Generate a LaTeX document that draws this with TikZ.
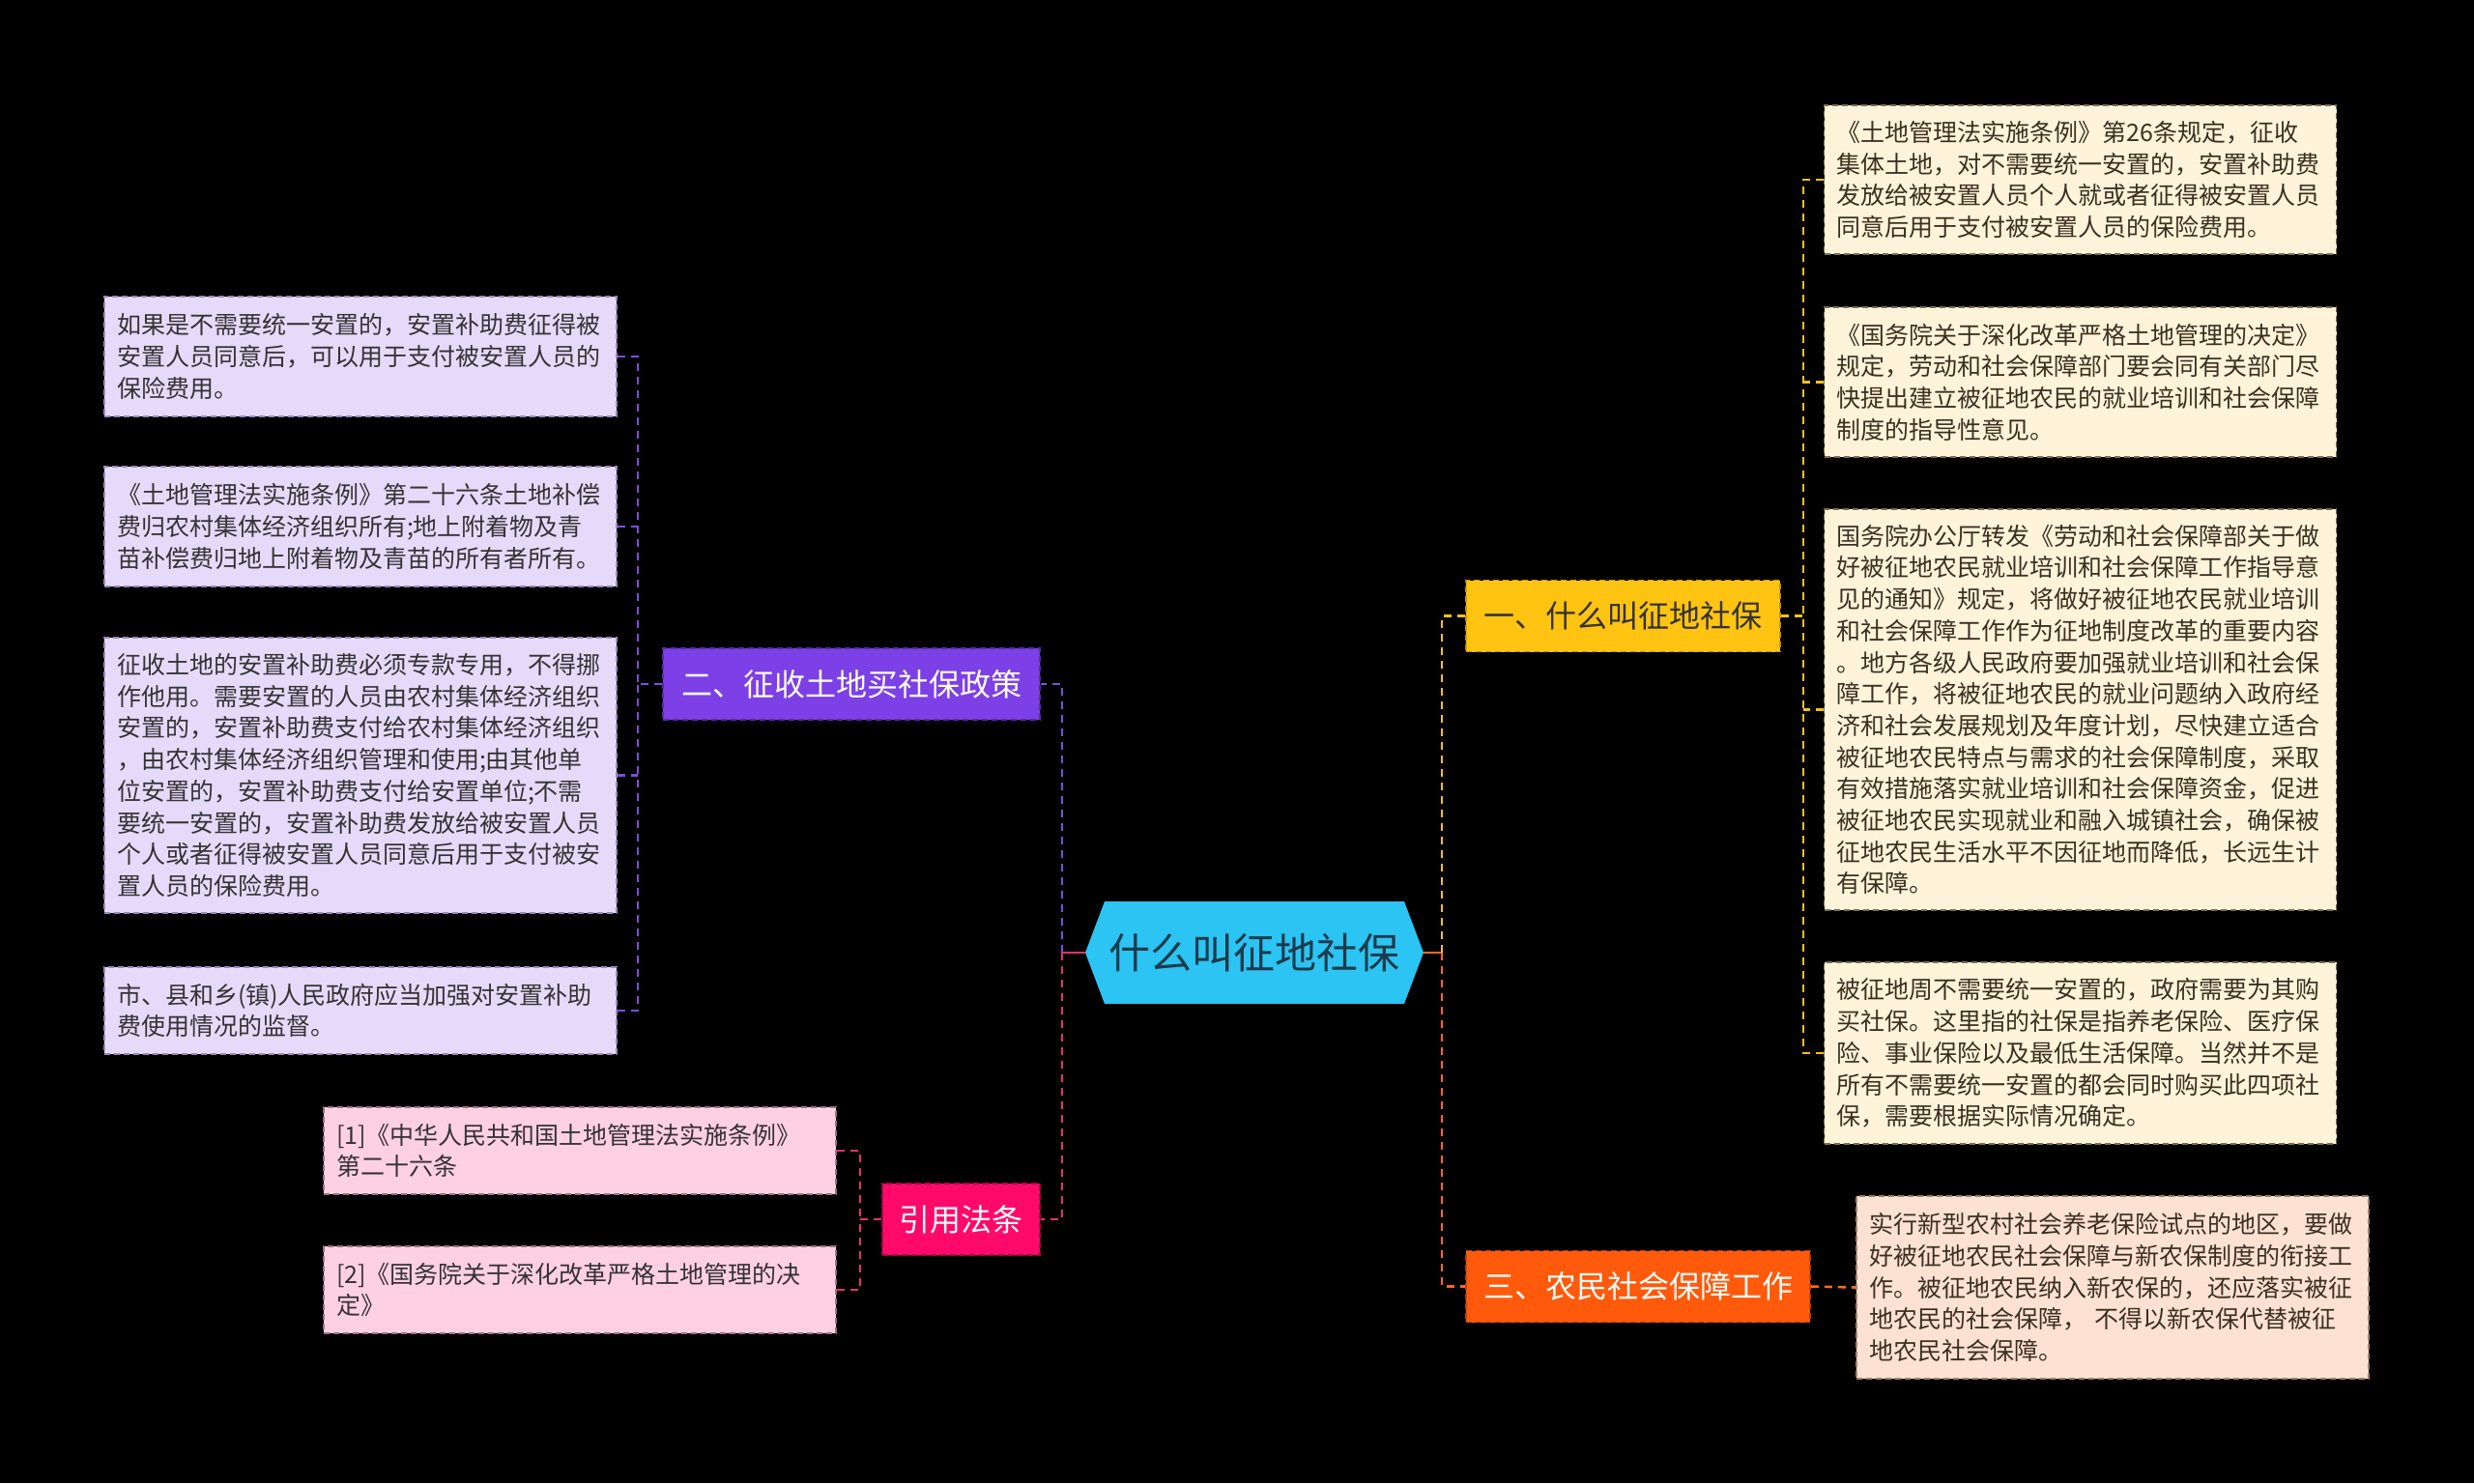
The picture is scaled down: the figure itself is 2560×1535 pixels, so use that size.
\documentclass[tikz,border=0pt]{standalone}
\usepackage{fontspec}
\setmainfont{Noto Sans CJK SC}
\usetikzlibrary{calc}
\definecolor{cfill}{HTML}{2BC4F3}
\definecolor{ctext}{HTML}{1D3A4A}
\definecolor{goldf}{HTML}{FFC312}
\definecolor{goldd}{HTML}{C99400}
\definecolor{goldl}{HTML}{F2C21A}
\definecolor{purf}{HTML}{7C40E6}
\definecolor{purd}{HTML}{5A28B0}
\definecolor{purl}{HTML}{7A4EE0}
\definecolor{orf}{HTML}{FF5A0B}
\definecolor{ord}{HTML}{C04000}
\definecolor{orl}{HTML}{FF6A1A}
\definecolor{pkf}{HTML}{FF0A6A}
\definecolor{pkd}{HTML}{B0004A}
\definecolor{pkl}{HTML}{E8306E}
\definecolor{lavf}{HTML}{E6DAFA}
\definecolor{lavd}{HTML}{9888BE}
\definecolor{creamf}{HTML}{FFF4DA}
\definecolor{creamd}{HTML}{7E6E4E}
\definecolor{rosef}{HTML}{FFD0E2}
\definecolor{rosed}{HTML}{A07084}
\definecolor{peachf}{HTML}{FDE1D3}
\definecolor{peachd}{HTML}{A08070}
\definecolor{darktxt}{HTML}{333333}
\definecolor{browntxt}{HTML}{3B3020}
\newcommand\leaffont{\fontsize{25}{32.7}\selectfont}
\newcommand\branchfont{\fontsize{32}{38}\selectfont}
\newcommand\centerfont{\fontsize{43}{50}\selectfont}
\begin{document}
\begin{tikzpicture}[x=1pt,y=-1pt,
  leafbox/.style={draw, line width=1.6pt, dash pattern=on 6pt off 4pt, inner xsep=13pt, inner ysep=0pt,
     text width=504pt, align=left, font=\leaffont, anchor=center},
  lavleaf/.style={leafbox, fill=lavf, draw=lavd, text=darktxt},
  creamleaf/.style={leafbox, fill=creamf, draw=creamd, text=browntxt},
  roseleaf/.style={leafbox, fill=rosef, draw=rosed, text=darktxt},
  peachleaf/.style={leafbox, fill=peachf, draw=peachd, text=browntxt},
  branchbox/.style={draw, line width=1.6pt, dash pattern=on 6pt off 4pt, inner sep=0pt, align=center,
     font=\branchfont, minimum height=74pt},
  conn/.style={line width=2.6pt, dash pattern=on 8pt off 6pt},
  stub/.style={line width=2.6pt}
]
\useasboundingbox (0,0) rectangle (2560,1535);
\fill[black] (0,0) rectangle (2560,1535);

% center hexagon
\coordinate (cc) at (1298,986);
\fill[cfill] ($(cc)+(-175,0)$) -- ($(cc)+(-155,-53)$) -- ($(cc)+(155,-53)$) -- ($(cc)+(175,0)$)
   -- ($(cc)+(155,53)$) -- ($(cc)+(-155,53)$) -- cycle;
\node[minimum width=350pt, minimum height=106pt, inner sep=0pt, font=\centerfont, text=ctext] (c) at (cc) {什么叫征地社保};

% branches
\node[branchbox, fill=goldf, draw=goldd, text=darktxt, minimum width=325pt] (b1) at (1679.5,637.5) {一、什么叫征地社保};
\node[branchbox, fill=purf, draw=purd, text=white, minimum width=390pt] (b2) at (881,708) {二、征收土地买社保政策};
\node[branchbox, fill=orf, draw=ord, text=white, minimum width=356pt] (b3) at (1695,1331.5) {三、农民社会保障工作};
\node[branchbox, fill=pkf, draw=pkd, text=white, minimum width=163pt] (b4) at (994.5,1262) {引用法条};

% left leaves
\node[lavleaf, minimum height=124pt] (L1) at (373,369) {如果是不需要统一安置的，安置补助费征得被\\安置人员同意后，可以用于支付被安置人员的\\保险费用。};
\node[lavleaf, minimum height=124pt] (L2) at (373,545) {《土地管理法实施条例》第二十六条土地补偿\\费归农村集体经济组织所有;地上附着物及青\\苗补偿费归地上附着物及青苗的所有者所有。};
\node[lavleaf, minimum height=285pt] (L3) at (373,802.5) {征收土地的安置补助费必须专款专用，不得挪\\作他用。需要安置的人员由农村集体经济组织\\安置的，安置补助费支付给农村集体经济组织\\，由农村集体经济组织管理和使用;由其他单\\位安置的，安置补助费支付给安置单位;不需\\要统一安置的，安置补助费发放给被安置人员\\个人或者征得被安置人员同意后用于支付被安\\置人员的保险费用。};
\node[lavleaf, minimum height=90pt] (L4) at (373,1046) {市、县和乡(镇)人民政府应当加强对安置补助\\费使用情况的监督。};

% reference leaves
\node[roseleaf, minimum height=90pt] (R1) at (600,1191) {[1]《中华人民共和国土地管理法实施条例》\\第二十六条};
\node[roseleaf, minimum height=90pt] (R2) at (600,1335) {[2]《国务院关于深化改革严格土地管理的决\\定》};

% right leaves
\node[creamleaf, minimum height=154pt] (T1) at (2152.5,186) {《土地管理法实施条例》第26条规定，征收\\集体土地，对不需要统一安置的，安置补助费\\发放给被安置人员个人就或者征得被安置人员\\同意后用于支付被安置人员的保险费用。};
\node[creamleaf, minimum height=155pt] (T2) at (2152.5,395.5) {《国务院关于深化改革严格土地管理的决定》\\规定，劳动和社会保障部门要会同有关部门尽\\快提出建立被征地农民的就业培训和社会保障\\制度的指导性意见。};
\node[creamleaf, minimum height=415pt] (T3) at (2152.5,734.5) {国务院办公厅转发《劳动和社会保障部关于做\\好被征地农民就业培训和社会保障工作指导意\\见的通知》规定，将做好被征地农民就业培训\\和社会保障工作作为征地制度改革的重要内容\\。地方各级人民政府要加强就业培训和社会保\\障工作，将被征地农民的就业问题纳入政府经\\济和社会发展规划及年度计划，尽快建立适合\\被征地农民特点与需求的社会保障制度，采取\\有效措施落实就业培训和社会保障资金，促进\\被征地农民实现就业和融入城镇社会，确保被\\征地农民生活水平不因征地而降低，长远生计\\有保障。};
\node[creamleaf, minimum height=188pt] (T4) at (2152.5,1090) {被征地周不需要统一安置的，政府需要为其购\\买社保。这里指的社保是指养老保险、医疗保\\险、事业保险以及最低生活保障。当然并不是\\所有不需要统一安置的都会同时购买此四项社\\保，需要根据实际情况确定。};
\node[peachleaf, minimum height=189pt] (T5) at (2186,1332.5) {实行新型农村社会养老保险试点的地区，要做\\好被征地农民社会保障与新农保制度的衔接工\\作。被征地农民纳入新农保的，还应落实被征\\地农民的社会保障，~不得以新农保代替被征\\地农民社会保障。};

% junctions
\coordinate (jr) at (1492,986);
\coordinate (jl) at (1099,986);
\coordinate (j1) at (1866,637.5);
\coordinate (j2) at (660,708);
\coordinate (j4) at (890,1262);

% center connectors
\draw[stub, orl] (c.east) -- (jr);
\draw[conn, goldl] (jr) |- (b1.west);
\draw[conn, orl] (jr) |- (b3.west);
\draw[stub, pkl] (c.west) -- (jl);
\draw[conn, purl] (jl) |- (b2.east);
\draw[conn, pkl] (jl) |- (b4.east);

% branch 1 to right leaves
\draw[conn, goldl] (b1.east) -- (j1);
\draw[conn, goldl] (T1.west) -| (j1);
\draw[conn, goldl] (T4.west) -| (j1);
\draw[conn, goldl] (T2.west) -- (T2.west -| j1);
\draw[conn, goldl] (T3.west) -- (T3.west -| j1);

% branch 2 to left leaves
\draw[conn, purl] (b2.west) -- (j2);
\draw[conn, purl] (L1.east) -| (j2);
\draw[conn, purl] (L4.east) -| (j2);
\draw[conn, purl] (L2.east) -- (L2.east -| j2);
\draw[conn, purl] (L3.east) -- (L3.east -| j2);

% branch 4 to references
\draw[conn, pkl] (b4.west) -- (j4);
\draw[conn, pkl] (R1.east) -| (j4);
\draw[conn, pkl] (R2.east) -| (j4);

% branch 3 to leaf
\draw[conn, orl] (b3.east) -- (T5.west);
\end{tikzpicture}
\end{document}
